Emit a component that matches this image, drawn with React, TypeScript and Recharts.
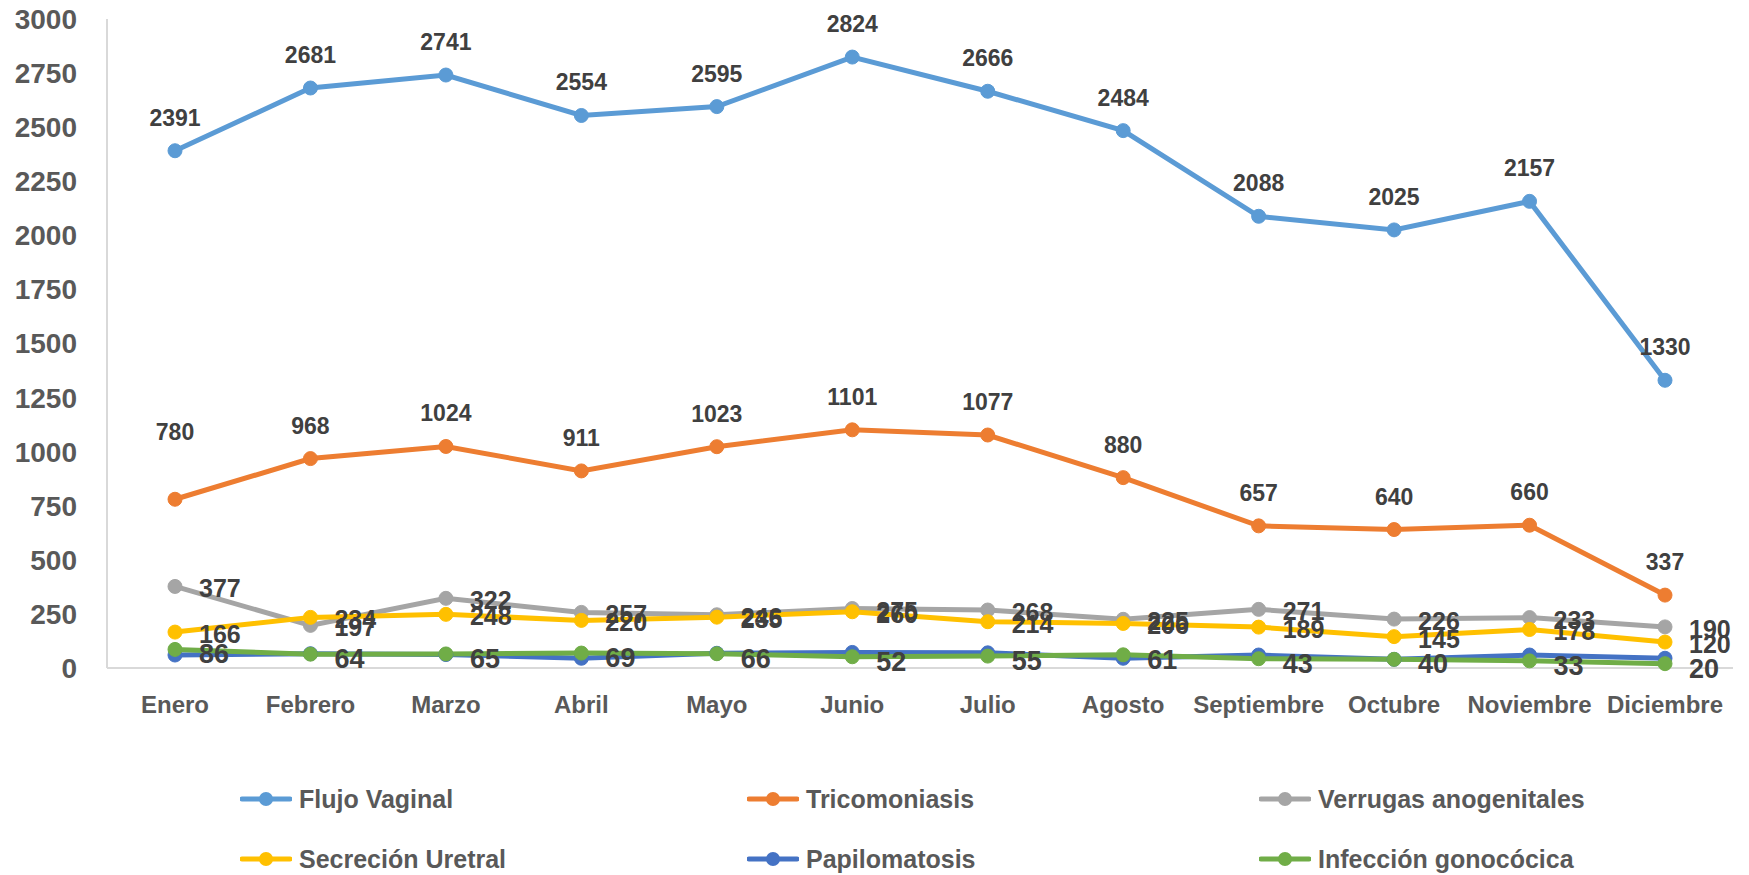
import { LineChart, Line, XAxis, YAxis, Legend, LabelList } from "recharts";

const months = ["Enero", "Febrero", "Marzo", "Abril", "Mayo", "Junio", "Julio", "Agosto", "Septiembre", "Octubre", "Noviembre", "Diciembre"];
const flujoVaginal = [2391, 2681, 2741, 2554, 2595, 2824, 2666, 2484, 2088, 2025, 2157, 1330];
const tricomoniasis = [780, 968, 1024, 911, 1023, 1101, 1077, 880, 657, 640, 660, 337];
const verrugas = [377, 197, 322, 257, 246, 275, 268, 225, 271, 226, 233, 190];
const secrecionUretral = [166, 234, 248, 220, 235, 260, 214, 206, 189, 145, 178, 120];
const papilomatosis = [60, 66, 62, 45, 68, 72, 70, 45, 60, 40, 60, 45];
const infeccionGonococica = [86, 64, 65, 69, 66, 52, 55, 61, 43, 40, 33, 20];
const yTicks = [0, 250, 500, 750, 1000, 1250, 1500, 1750, 2000, 2250, 2500, 2750, 3000];

const series = [
  { key: "flujo", name: "Flujo Vaginal", values: flujoVaginal, color: "#5B9BD5", label: "top" },
  { key: "trico", name: "Tricomoniasis", values: tricomoniasis, color: "#ED7D31", label: "top" },
  { key: "verrugas", name: "Verrugas anogenitales", values: verrugas, color: "#A5A5A5", label: "right" },
  { key: "secrecion", name: "Secreción Uretral", values: secrecionUretral, color: "#FFC000", label: "right" },
  { key: "papilo", name: "Papilomatosis", values: papilomatosis, color: "#4472C4", label: "none" },
  { key: "gono", name: "Infección gonocócica", values: infeccionGonococica, color: "#70AD47", label: "right-big" },
];

const data = months.map((m, i) => {
  const row: any = { month: m };
  series.forEach((s) => {
    row[s.key] = s.values[i];
  });
  return row;
});

const FONT = "'Liberation Sans', Arial, sans-serif";

// label center, works whether recharts hands x/y or a viewBox
const center = (p: any) => {
  const vb = p.viewBox;
  if (vb && vb.x != null) {
    return { x: vb.x + (vb.width || 0) / 2, y: vb.y + (vb.height || 0) / 2 };
  }
  return { x: p.x, y: p.y };
};

const makeLabel = (kind: string, seriesKey: string) => (p: any) => {
  const c = center(p);
  if (kind === "top") {
    // first Tricomoniasis label sits higher in the original
    const up = seriesKey === "trico" && p.index === 0 ? 67 : 33;
    return (
      <text x={c.x} y={c.y - up} textAnchor="middle" dominantBaseline="central"
        fontFamily={FONT} fontWeight="bold" fontSize={23} fill="#404040">
        {p.value}
      </text>
    );
  }
  const big = kind === "right-big";
  return (
    <text x={c.x + 24} y={c.y + (big ? 5 : 2)} textAnchor="start" dominantBaseline="central"
      fontFamily={FONT} fontWeight="bold" fontSize={big ? 27 : 25} fill="#404040">
      {p.value}
    </text>
  );
};

const LegendContent = () => (
  <div style={{ display: "grid", gridTemplateColumns: "507px 512px 480px", paddingLeft: 240, rowGap: 34 }}>
    {series.map((s) => (
      <div key={s.key} style={{ display: "flex", alignItems: "center", height: 26 }}>
        <svg width={52} height={20} style={{ marginRight: 7 }}>
          <line x1={2} y1={10} x2={50} y2={10} stroke={s.color} strokeWidth={5} strokeLinecap="round" />
          <circle cx={26} cy={10} r={7} fill={s.color} />
        </svg>
        <span style={{ fontFamily: FONT, fontWeight: "bold", fontSize: 25, color: "#595959" }}>{s.name}</span>
      </div>
    ))}
  </div>
);

export default function App() {
  return (
    <div style={{ position: "absolute", left: 0, top: 0, background: "#fff" }}>
      <LineChart width={1749} height={875} data={data} margin={{ top: 19, right: 16, left: 0, bottom: 137 }}>
        <XAxis
          dataKey="month"
          tickLine={false}
          axisLine={{ stroke: "#D9D9D9", strokeWidth: 2 }}
          padding={{ left: 68, right: 68 }}
          tickMargin={22}
          height={70}
          interval={0}
          tick={{ fontFamily: FONT, fontWeight: "bold", fontSize: 24, fill: "#595959" }}
        />
        <YAxis
          domain={[0, 3000]}
          ticks={yTicks}
          tickLine={false}
          axisLine={{ stroke: "#D9D9D9", strokeWidth: 2 }}
          width={107}
          tickMargin={24}
          interval={0}
          tick={{ fontFamily: FONT, fontWeight: "bold", fontSize: 28, fill: "#595959" }}
        />
        <Legend
          layout="horizontal"
          verticalAlign="middle"
          align="center"
          content={LegendContent}
          wrapperStyle={{ top: 786, left: 0, width: 1749 }}
        />
        {series.map((s) => (
          <Line
            key={s.key}
            dataKey={s.key}
            name={s.name}
            stroke={s.color}
            strokeWidth={5}
            type="linear"
            dot={{ r: 7, fill: s.color, stroke: s.color, strokeWidth: 1 }}
            activeDot={false}
            isAnimationActive={false}
          >
            {s.label !== "none" && <LabelList dataKey={s.key} content={makeLabel(s.label, s.key)} />}
          </Line>
        ))}
      </LineChart>
    </div>
  );
}
